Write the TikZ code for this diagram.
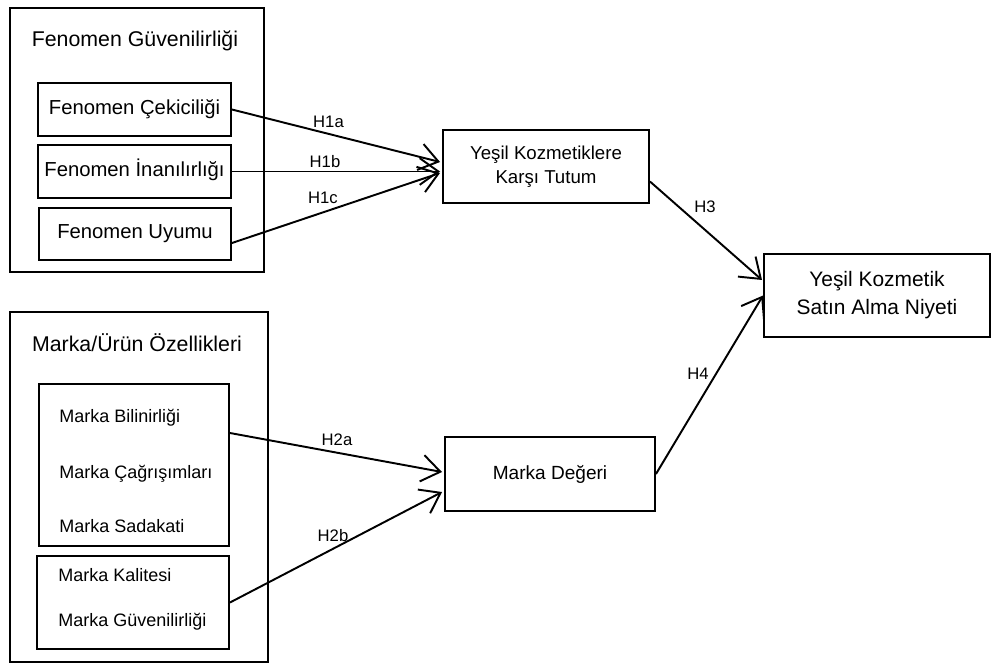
\documentclass[tikz,border=0pt]{standalone}
\usepackage{fontspec}
\setmainfont{Liberation Sans}
\usetikzlibrary{arrows.meta,positioning,calc}
\tikzset{
  group/.style={draw,line width=1.45pt,inner sep=0pt},
  factor/.style={draw,line width=1.45pt,inner sep=0pt,minimum width=144.75pt,
    minimum height=39.75pt,text height=0.72em,text depth=0pt,
    font=\fontsize{15.2}{18}\selectfont},
  construct/.style={draw,line width=1.45pt,inner sep=0pt,align=center},
  title/.style={inner sep=0pt,text height=0.72em,text depth=0pt,
    font=\fontsize{16}{19}\selectfont},
  item/.style={inner sep=0pt,anchor=west,text height=0.72em,text depth=0pt,
    font=\fontsize{13.5}{16}\selectfont},
  hyp/.style={inner sep=0pt,text height=0.72em,text depth=0pt,
    font=\fontsize{12.5}{15}\selectfont},
  arrow/.style={-{Straight Barb[length=14pt,width=20pt]},line width=1.45pt}
}

\begin{document}
\begin{tikzpicture}[x=0.75pt,y=-0.75pt]
  \useasboundingbox (0,0) rectangle (993,664);

  % fenomen block
  \node[group,minimum width=190.5pt,minimum height=198pt] (fenomen) at (137,140) {};
  \node[title] (fenomentitle) at (135,41.5) {Fenomen Güvenilirliği};
  \node[factor] (cekici) at (134.5,109.5) {Fenomen Çekiciliği};
  \node[factor] (inanir) at (134.5,171.5) {Fenomen İnanılırlığı};
  \node[factor,minimum width=144pt,minimum height=39pt] (uyum) at (135,234) {Fenomen Uyumu};

  % marka block
  \node[group,minimum width=193.5pt,minimum height=262.5pt] (marka) at (139,487) {};
  \node[title] (markatitle) at (137,347) {Marka/Ürün Özellikleri};
  \node[group,minimum width=142.5pt,minimum height=121.5pt] (bilgi) at (134,465) {};
  \node[item] (bilinir) at (59,417.5) {Marka Bilinirliği};
  \node[item] (cagrisim) at (59,473.5) {Marka Çağrışımları};
  \node[item] (sadakat) at (59,528) {Marka Sadakati};
  \node[group,minimum width=144pt,minimum height=69.75pt] (kalite) at (133,602.5) {};
  \node[item] (kalitesi) at (58,576.5) {Marka Kalitesi};
  \node[item] (guven) at (58,622) {Marka Güvenilirliği};

  % constructs
  \node[construct,minimum width=154.5pt,minimum height=54.75pt,
        font=\fontsize{14}{18}\selectfont] (tutum) at (546,166.5)
        {Yeşil Kozmetiklere\\Karşı Tutum};
  \node[construct,minimum width=157.5pt,minimum height=55.5pt,
        font=\fontsize{14.3}{17}\selectfont] (deger) at (550,474) {Marka Değeri};
  \node[construct,minimum width=169.5pt,minimum height=62.25pt,
        font=\fontsize{15.7}{21}\selectfont] (niyet) at (877,295.5)
        {Yeşil Kozmetik\\Satın Alma Niyeti};

  % hypotheses
  \draw[arrow] (cekici.east) -- ($(tutum.west)+(-2,-4.5)$);
  \draw[arrow] (inanir.east) -- ($(tutum.west)+(-2,5)$);
  \draw[arrow] ($(uyum.east)+(0,9)$) -- ($(tutum.west)+(-2,6.5)$);
  \draw[arrow] ($(bilgi.east)+(0,-32)$) -- ($(deger.west)+(-2,-2)$);
  \draw[arrow] (kalite.east) -- ($(deger.west)+(-2,18)$);
  \draw[arrow] ($(tutum.east)+(0,15)$) -- ($(niyet.west)+(-1,-15.5)$);
  \draw[arrow] (deger.east) -- ($(niyet.west)+(0,0)$);

  \node[hyp] (h1a) at (328.5,122.5) {H1a};
  \node[hyp] (h1b) at (325,163) {H1b};
  \node[hyp] (h1c) at (323,199) {H1c};
  \node[hyp] (h2a) at (337,441) {H2a};
  \node[hyp] (h2b) at (333,537) {H2b};
  \node[hyp] (h3) at (705,208) {H3};
  \node[hyp] (h4) at (698,375) {H4};
\end{tikzpicture}
\end{document}
